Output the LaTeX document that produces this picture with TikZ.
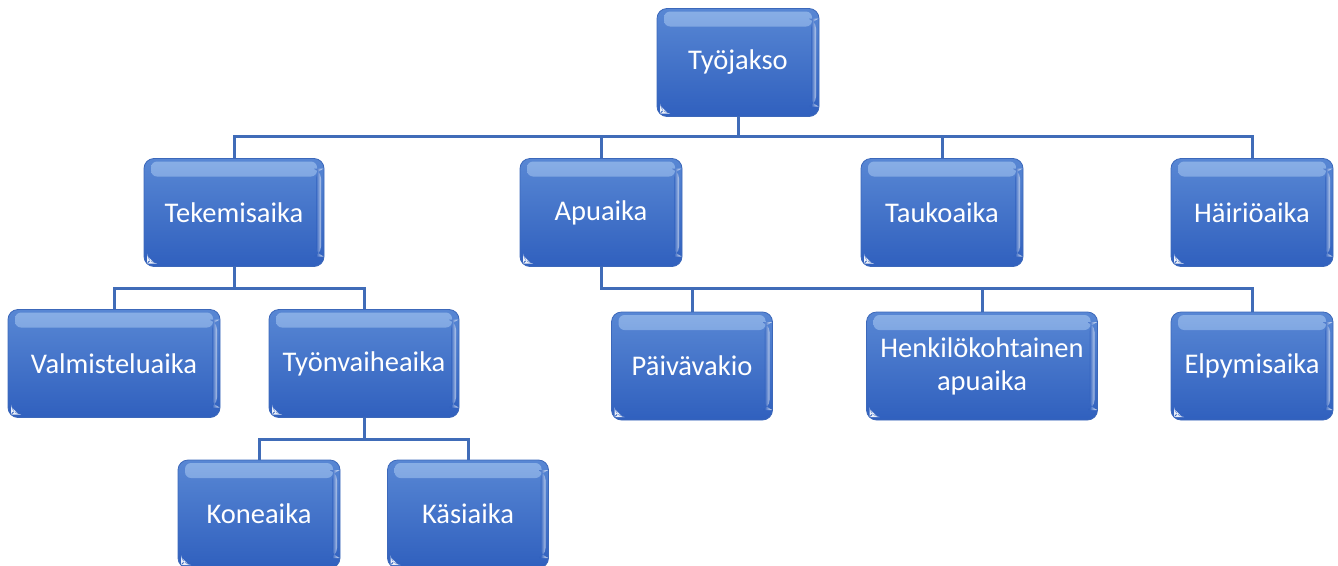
\documentclass[tikz,border=0pt]{standalone}
\usepackage{fontspec}
\setmainfont{Carlito}
\definecolor{boxtop}{RGB}{88,135,212}
\definecolor{boxbot}{RGB}{48,96,190}
\definecolor{boxedge}{RGB}{60,104,186}
\definecolor{glosstop}{RGB}{150,185,235}
\definecolor{linecol}{RGB}{64,108,184}
\tikzset{
  box/.style={rectangle, rounded corners=10pt, top color=boxtop, bottom color=boxbot,
    draw=boxedge, line width=0.8pt, text=white, align=center, inner sep=2pt,
    font=\fontsize{28.5}{33}\selectfont, minimum height=108pt,
    path picture={
      \shade[top color=glosstop, bottom color=boxtop, opacity=0.8, rounded corners=6pt]
        ([xshift=7pt,yshift=-3pt]path picture bounding box.north west) rectangle
        ([xshift=-7pt,yshift=-18pt]path picture bounding box.north east);
      \shade[left color=boxbot, right color=white, opacity=0.6]
        ([xshift=-8pt,yshift=-10pt]path picture bounding box.north east) rectangle
        ([xshift=-3pt,yshift=10pt]path picture bounding box.south east);
      \fill[white,opacity=0.9]
        ([xshift=3pt,yshift=3pt]path picture bounding box.south west) --
        ([xshift=11pt,yshift=3pt]path picture bounding box.south west) --
        ([xshift=3pt,yshift=11pt]path picture bounding box.south west) -- cycle;
    }},
  conn/.style={draw=linecol, line width=3pt}
}
\begin{document}
\begin{tikzpicture}[x=1pt,y=-1pt]
\useasboundingbox (0,0) rectangle (1338,565);
\clip (0,0) rectangle (1338,565);
\node[box, minimum width=162pt] (t0) at (738,62.5) {Työjakso};
\node[box, minimum width=180pt] (a) at (234,212.5) {Tekemisaika};
\node[box, minimum width=162pt] (b) at (601,212.5) {Apuaika};
\node[box, minimum width=162pt] (c) at (942,212.5) {Taukoaika};
\node[box, minimum width=162pt] (d) at (1252,212.5) {Häiriöaika};
\node[box, minimum width=212pt] (a1) at (114,363.5) {Valmisteluaika};
\node[box, minimum width=190pt] (a2) at (364,363.5) {Työnvaiheaika};
\node[box, minimum width=161pt] (b1) at (692,366) {Päivävakio};
\node[box, minimum width=231pt] (b2) at (982,366) {Henkilökohtainen\\apuaika};
\node[box, minimum width=162pt] (b3) at (1252,366) {Elpymisaika};
\node[box, minimum width=162pt] (a21) at (259,514) {Koneaika};
\node[box, minimum width=161pt] (a22) at (468,514) {Käsiaika};
\draw[conn] (t0.south) -- ++(0,20) -| (a.north);
\draw[conn] (t0.south) -- ++(0,20) -| (b.north);
\draw[conn] (t0.south) -- ++(0,20) -| (c.north);
\draw[conn] (t0.south) -- ++(0,20) -| (d.north);
\draw[conn] (a.south) -- ++(0,22) -| (a1.north);
\draw[conn] (a.south) -- ++(0,22) -| (a2.north);
\draw[conn] (b.south) -- ++(0,22) -| (b1.north);
\draw[conn] (b.south) -- ++(0,22) -| (b2.north);
\draw[conn] (b.south) -- ++(0,22) -| (b3.north);
\draw[conn] (a2.south) -- ++(0,22) -| (a21.north);
\draw[conn] (a2.south) -- ++(0,22) -| (a22.north);
\end{tikzpicture}
\end{document}
